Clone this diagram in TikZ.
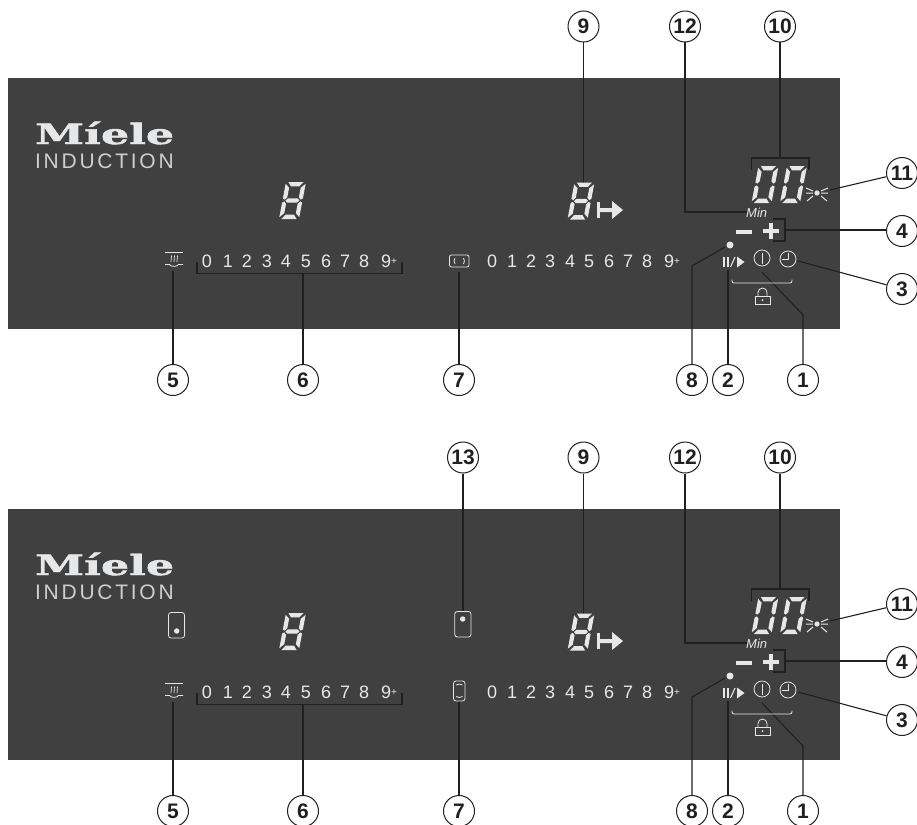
\documentclass[tikz,border=0pt]{standalone}
\usepackage{fontspec}
\setmainfont{Liberation Sans}
\newfontfamily\logofont{DejaVu Serif Bold}[FakeBold=1.6]
\newfontfamily\indfont{Liberation Sans}[LetterSpace=13]
\definecolor{panelc}{HTML}{404040}
\definecolor{lightc}{HTML}{E6E7E8}
\definecolor{dimc}{HTML}{CDCECF}
\definecolor{linec}{HTML}{231F20}
\tikzset{
  x=1pt,y=-1pt,
  callout/.style={circle,draw=linec,line width=1pt,fill=white,minimum size=31pt,inner sep=0pt,text=linec,font=\fontsize{21}{21}\selectfont\bfseries},
  lead/.style={draw=linec,line width=1.1pt},
  iconline/.style={draw=lightc,line width=.8pt},
  digitn/.style={text=lightc,anchor=base,inner sep=0pt,font=\fontsize{18}{18}\selectfont},
}
\newcommand{\digitsegs}[3]{% x, y, with middle(1/0)
  \begin{scope}[shift={(#1,#2)},xslant=.19]
    \fill[lightc] (2.4,0)--(17.6,0)--(14.2,4.4)--(5.8,4.4)--cycle;
    \fill[lightc] (2.4,37)--(17.6,37)--(14.2,32.6)--(5.8,32.6)--cycle;
    \fill[lightc] (0,1.8)--(4.2,5.8)--(4.2,15.2)--(2,17.6)--(0,16.4)--cycle;
    \fill[lightc] (20,1.8)--(15.8,5.8)--(15.8,15.2)--(18,17.6)--(20,16.4)--cycle;
    \fill[lightc] (0,35.2)--(4.2,31.2)--(4.2,21.8)--(2,19.4)--(0,20.6)--cycle;
    \fill[lightc] (20,35.2)--(15.8,31.2)--(15.8,21.8)--(18,19.4)--(20,20.6)--cycle;
    \ifnum#3=1
      \fill[lightc] (3,18.5)--(5,16.4)--(15,16.4)--(17,18.5)--(15,20.6)--(5,20.6)--cycle;
    \fi
  \end{scope}}
\newcommand{\panel}[1]{%
  \fill[panelc] (8,78) rectangle (840,329);
  % logo
  \node[inner sep=0pt,anchor=base west,text=lightc] (#1logo) at (35,144)
    {\scalebox{1.58}[1]{\logofont\fontsize{28}{28}\selectfont Míele}};
  \node[inner sep=0pt,anchor=base west,text=dimc] (#1ind) at (35,168)
    {\indfont\fontsize{21}{21}\selectfont INDUCTION};
  % callouts
  \node[callout] (#1c9) at (583.5,26.5) {9};
  \node[callout] (#1c12) at (685,26.5) {12};
  \node[callout] (#1c10) at (780,26.5) {10};
  \node[callout] (#1c11) at (902,173) {11};
  \node[callout] (#1c4) at (902,231) {4};
  \node[callout] (#1c3) at (902,289) {3};
  \node[callout] (#1c5) at (173,380) {5};
  \node[callout] (#1c6) at (303,380) {6};
  \node[callout] (#1c7) at (459,380) {7};
  \node[callout] (#1c8) at (692,380) {8};
  \node[callout] (#1c2) at (728,380) {2};
  \node[callout] (#1c1) at (803,380) {1};
  % connector ends
  \coordinate (#1e9) at (583.5,183);
  \coordinate (#1k12) at (685,212);
  \coordinate (#1e12) at (747,212);
  \coordinate (#1k10) at (780,158);
  \coordinate (#1e11) at (830,190);
  \coordinate (#1k4) at (785,230);
  \coordinate (#1e3) at (798,261);
  \coordinate (#1k1) at (803,315);
  \coordinate (#1e1) at (762,272);
  \coordinate (#1e2) at (728,270);
  \coordinate (#1k8) at (692,266);
  \coordinate (#1e8) at (725,247);
  \coordinate (#1e5) at (173,271);
  \coordinate (#1k6) at (303,273.5);
  \draw[lead] (#1c9) -- (#1e9);
  \draw[lead] (#1c12) -- (#1k12) -- (#1e12);
  \draw[lead] (#1c10) -- (#1k10);
  \draw[lead] (751.5,170) -- (751.5,158) -- (809,158) -- (809,170);
  \draw[lead] (#1c11) -- (#1e11);
  \draw[lead] (#1c4.west |- #1k4) -- (#1k4);
  \draw[lead] (773,219) -- (785,219) -- (785,241) -- (773,241);
  \draw[lead] (#1c3) -- (#1e3);
  \draw[lead] (#1c1) -- (#1k1) -- (#1e1);
  \draw[lead] (#1c2) -- (#1e2);
  \draw[lead] (#1c8) -- (#1k8) -- (#1e8);
  \draw[lead] (#1c5) -- (#1e5);
  \draw[lead] (#1c6) -- (#1k6);
  \draw[lead] (197,262) -- (197,273.5) -- (402,273.5) -- (402,262);
  % digits rows
  \foreach \x/\t in {207/0,228/1,247/2,267/3,286/4,306/5,326/6,345/7,364/8,492/0,512/1,531/2,550/3,570/4,589/5,609/6,628/7,647/8}
    \node[digitn] (#1n\x) at (\x,267) {\t};
  \foreach \x in {389,672}
    \node[digitn] (#1m\x) at (\x,267) {9\raisebox{2.5pt}{\fontsize{10}{10}\selectfont+}};
  % seven segment displays
  \digitsegs{286}{182}{1}
  \digitsegs{574.5}{182.5}{1}
  \digitsegs{758.5}{166}{0}
  \digitsegs{787}{166}{0}
  % arrow
  \fill[lightc] (597,201.5) rectangle (600,218);
  \fill[lightc] (600,208) -- (612,208) -- (612,201) -- (623,210) -- (612,219) -- (612,212) -- (600,212) -- cycle;
  % sun
  \fill[lightc] (817,193) circle (2.6);
  \draw[iconline,line width=1pt] (806,188)--(813,191) (806,193)--(813,193) (807,201)--(813,196)
     (828,188)--(821,191) (828,193)--(821,193) (827,201)--(821,196);
  % Min
  \node[inner sep=0pt,anchor=base west,text=lightc] (#1min) at (746,217)
     {\fontsize{13}{13}\selectfont\itshape Min};
  % minus plus
  \fill[lightc] (736,230) rectangle (752,234);
  \fill[lightc] (763,229) rectangle (779,233);
  \fill[lightc] (769,223) rectangle (773,239);
  % dot
  \fill[lightc] (730,245) circle (3.5);
  % pause play
  \fill[lightc] (723,257) rectangle (725.2,267);
  \fill[lightc] (727,257) rectangle (729.2,267);
  \draw[lightc,line width=1.1pt] (730.5,267)--(735,257);
  \fill[lightc] (737,256.5)--(744.5,262)--(737,267.5)--cycle;
  % power
  \draw[iconline] (762,258) circle (8);
  \draw[iconline] (762,252.5)--(762,263.5);
  % clock
  \draw[iconline] (788,259) circle (8);
  \draw[iconline] (788,253)--(788,259)--(782,259);
  % brace
  \draw[iconline,rounded corners=2pt] (732,279.5)--(732,283)--(792,283)--(792,279.5);
  % lock
  \draw[iconline] (755,296) rectangle (770,304.5);
  \draw[iconline] (758,296)--(758,292.5) arc[start angle=180,end angle=360,radius=4.5]--(767,296);
  \fill[lightc] (762.5,300.2) circle (1);
  % heat
  \draw[iconline] (165,252.5)--(183,252.5);
  \draw[iconline,line width=.7pt] (171.5,255.5) .. controls (170,258) and (172.5,259) .. (171,262)
     (174.5,255.5) .. controls (173,258) and (175.5,259) .. (174,262)
     (177.5,255.5) .. controls (176,258) and (178.5,259) .. (177,262);
  \draw[iconline] (165,264.5)--(169.5,264.5) .. controls (171,267) and (177,267) .. (178.5,264.5)--(183,264.5);
}
\begin{document}
\begin{tikzpicture}[x=1pt,y=-1pt]
\useasboundingbox (0,0) rectangle (917,824);
\panel{a}
% top panel: zone icon and its connector
\coordinate (ae7) at (459,272);
\draw[lead] (ac7) -- (ae7);
\draw[iconline,rounded corners=2pt] (449.5,255) rectangle (469,267);
\draw[iconline] (455,258) .. controls (453.8,260) and (453.8,262) .. (455,264)
   (463.5,258) .. controls (464.7,260) and (464.7,262) .. (463.5,264);
\begin{scope}[yshift=-431pt]
\panel{b}
\coordinate (be7) at (459,270);
\draw[lead] (bc7) -- (be7);
\draw[iconline,rounded corners=2.5pt] (453.5,250) rectangle (465,270);
\draw[iconline] (456,254) .. controls (458,252.8) and (460.5,252.8) .. (462.5,254)
   (456,265.5) .. controls (458,266.8) and (460.5,266.8) .. (462.5,265.5);
% bottom panel extras
\node[callout] (bc13) at (463,26.5) {13};
\coordinate (be13) at (463,180);
\draw[lead] (bc13) -- (be13);
\draw[iconline,rounded corners=2.5pt] (454.8,180.5) rectangle (471,206);
\fill[lightc] (462.7,188) circle (2.7);
\draw[iconline,rounded corners=2.5pt] (168.5,181.5) rectangle (184.5,207);
\fill[lightc] (176.7,200) circle (2.7);
\end{scope}
\end{tikzpicture}
\end{document}
